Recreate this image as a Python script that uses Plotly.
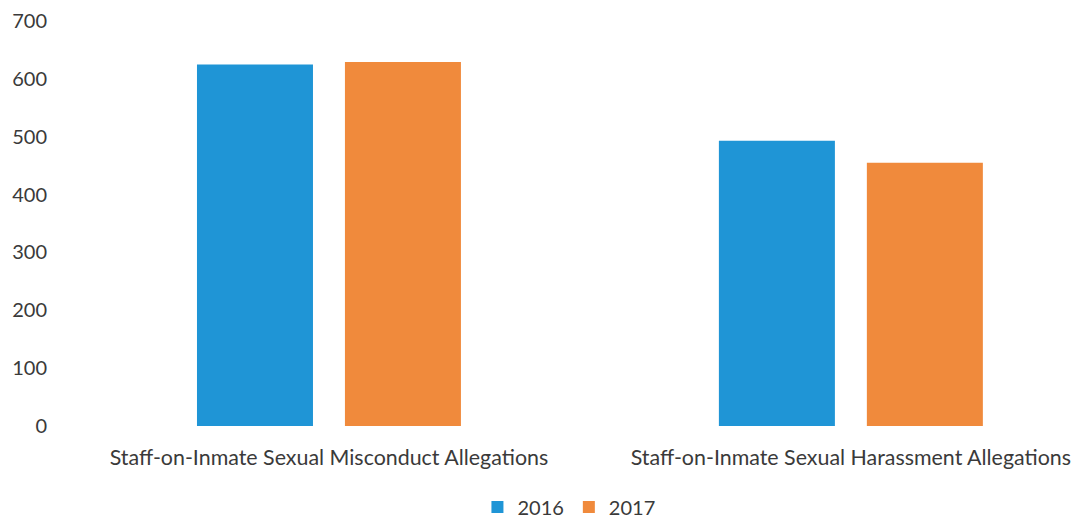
import plotly.graph_objects as go

categories = ["Staff-on-Inmate Sexual Misconduct Allegations",
              "Staff-on-Inmate Sexual Harassment Allegations"]
series_names = ["2016", "2017"]
values_2016 = [625, 493]
values_2017 = [629, 455]
colors = ["#1f95d6", "#f08a3c"]
y_ticks = [0, 100, 200, 300, 400, 500, 600, 700]

fig = go.Figure()
for name, vals, col in zip(series_names, [values_2016, values_2017], colors):
    fig.add_trace(go.Bar(x=categories, y=vals, name=name, marker_color=col,
                         marker_line_width=0))

W, H = 1072, 513
left, top, bottom = 60, 13, 95
fig.update_layout(
    width=W, height=H,
    margin=dict(l=left, r=0, t=top, b=bottom, autoexpand=False),
    paper_bgcolor="white", plot_bgcolor="white",
    barmode="group", bargap=0.433, bargroupgap=0.216,
    font=dict(family="Lato, Open Sans, sans-serif", color="#3a3a3a", size=20),
    showlegend=True,
    legend=dict(orientation="h", x=0.495, xanchor="center", y=-0.2, yanchor="middle",
                font=dict(size=20), itemwidth=30, traceorder="normal"),
)
fig.update_xaxes(range=[-0.5, 1.439], showgrid=False, showline=False, zeroline=False,
                 ticks="", ticklabelstandoff=17, tickfont=dict(size=21.4))
fig.update_yaxes(range=[0, 700], tickvals=y_ticks, showgrid=False, showline=False,
                 zeroline=False, ticks="", ticklabelstandoff=20, tickfont=dict(size=20))

fig.write_html("out.html")
